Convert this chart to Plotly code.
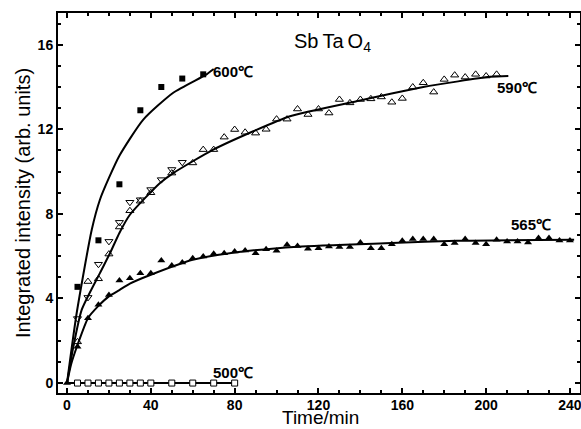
import plotly.graph_objects as go

# ---- data ----
t600 = [5, 15, 25, 35, 45, 55, 65]
y600 = [4.55, 6.75, 9.4, 12.9, 14.0, 14.4, 14.6]
fit600_t = [0, 4.6, 11.8, 15.7, 20, 25, 36.4, 50.7, 66.6, 70]
fit600_y = [0, 3.3, 7.25, 8.67, 9.7, 10.75, 12.46, 13.73, 14.6, 14.85]

t590dn = [5, 10, 15, 20, 25, 30, 35, 40, 45, 50, 55]
y590dn = [3.05, 4.05, 5.62, 6.7, 7.6, 8.55, 8.67, 9.15, 9.62, 10.1, 10.44]
t590up = [5, 10, 15, 20, 25, 30, 35, 40, 50, 60, 65, 70, 75, 80, 85, 90, 95, 100, 105,
          110, 115, 120, 125, 130, 135, 140, 145, 150, 155, 160, 165, 170, 175, 180,
          185, 190, 195, 200, 205]
y590up = [1.95, 4.8, 4.93, 6.1, 7.38, 8.15, 8.6, 9.0, 9.93, 10.41, 11.04, 11.04, 11.63,
          11.99, 11.86, 11.82, 12.0, 12.48, 12.48, 12.96, 12.7, 12.96, 12.77, 13.41,
          13.25, 13.41, 13.44, 13.53, 13.28, 13.46, 14.0, 14.2, 13.76, 14.36, 14.56,
          14.47, 14.6, 14.52, 14.6]
fit590_t = [0, 3, 7, 15.7, 20.5, 25, 30, 44.4, 50.7, 69.8, 88.9, 106.4, 138.2, 170, 201.8, 210.6]
fit590_y = [0, 1.7, 3.46, 5.2, 6.14, 7.1, 7.96, 9.46, 9.93, 11.04, 11.91, 12.62, 13.33, 14.0, 14.48, 14.52]

t565 = [0, 5, 10, 15, 20, 25, 30, 35, 40, 45, 50, 55, 60, 65, 70, 75, 80, 85, 90, 95, 100,
        105, 110, 115, 120, 125, 130, 135, 140, 145, 150, 155, 160, 165, 170, 175, 180,
        185, 190, 195, 200, 205, 210, 215, 220, 225, 230, 235, 240]
y565 = [0, 1.72, 3.07, 3.7, 4.17, 4.85, 4.96, 5.19, 5.19, 5.8, 5.56, 5.7, 5.9, 5.99, 6.11,
        6.14, 6.22, 6.27, 6.14, 6.33, 6.26, 6.54, 6.48, 6.35, 6.38, 6.46, 6.43, 6.43,
        6.65, 6.38, 6.38, 6.57, 6.73, 6.81, 6.81, 6.81, 6.57, 6.62, 6.81, 6.62, 6.57,
        6.78, 6.7, 6.7, 6.65, 6.86, 6.86, 6.74, 6.74]
fit565_t = [0, 2, 5, 10, 15, 20, 25, 30, 40, 60, 80, 110, 155, 186, 242]
fit565_y = [0, 0.9, 1.8, 3.07, 3.65, 4.1, 4.4, 4.7, 5.12, 5.83, 6.17, 6.45, 6.62, 6.73, 6.78]

t500 = [5, 10, 15, 20, 25, 30, 35, 40, 50, 60, 70, 80]
y500 = [0.0] * 12
fit500_t = [0, 80]
fit500_y = [0, 0]

xticks = [0, 40, 80, 120, 160, 200, 240]
yticks = [0, 4, 8, 12, 16]

FONT = "Liberation Sans, Arial, Helvetica, sans-serif"
BLACK = "#000000"

fig = go.Figure()

def curve(x, y):
    fig.add_trace(go.Scatter(x=x, y=y, mode="lines",
                             line=dict(color=BLACK, width=2, shape="spline", smoothing=0.6),
                             showlegend=False, hoverinfo="skip"))

curve(fit600_t, fit600_y)
curve(fit590_t, fit590_y)
curve(fit565_t, fit565_y)
curve(fit500_t, fit500_y)

fig.add_trace(go.Scatter(x=t600, y=y600, mode="markers",
                         marker=dict(symbol="square", size=6, color=BLACK, line=dict(width=0)),
                         showlegend=False))
fig.add_trace(go.Scatter(x=t590dn, y=y590dn, mode="markers",
                         marker=dict(symbol="triangle-down-open", size=7, color=BLACK, line=dict(width=1)),
                         showlegend=False))
fig.add_trace(go.Scatter(x=t590up, y=y590up, mode="markers",
                         marker=dict(symbol="triangle-up-open", size=7, color=BLACK, line=dict(width=1)),
                         showlegend=False))
fig.add_trace(go.Scatter(x=t565, y=y565, mode="markers",
                         marker=dict(symbol="triangle-up", size=7, color=BLACK, line=dict(width=0)),
                         showlegend=False))
fig.add_trace(go.Scatter(x=t500, y=y500, mode="markers",
                         marker=dict(symbol="square", size=6, color="white", line=dict(color=BLACK, width=1)),
                         showlegend=False))

labfont = dict(family=FONT, size=15, color=BLACK, weight="bold")
for txt, x, y in [("600℃", 69.5, 14.74), ("590℃", 205, 13.98), ("565℃", 212, 7.49), ("500℃", 69.5, 0.52)]:
    fig.add_annotation(x=x, y=y, text=txt, showarrow=False, xanchor="left", yanchor="middle",
                       font=labfont, xshift=-2)
fig.add_annotation(x=108.5, y=16.1, text="Sb\u2009Ta\u2009O<sub>4</sub>", showarrow=False, xanchor="left",
                   yanchor="middle", font=dict(family=FONT, size=20, color=BLACK), xshift=-2)

# x-axis title placed just under the tick labels
fig.add_annotation(x=0.502, y=-36 / 380, xref="paper", yref="paper", text="Time/min",
                   showarrow=False, xanchor="center", yanchor="bottom", yshift=-1,
                   font=dict(family=FONT, size=19, color=BLACK))

axis_common = dict(showline=True, linecolor=BLACK, linewidth=2, mirror="ticks",
                   ticks="inside", tickcolor=BLACK, tickwidth=1.5, ticklen=5,
                   showgrid=False, zeroline=False, automargin=False,
                   ticklabeloverflow="allow",
                   tickfont=dict(family=FONT, size=14, color=BLACK, weight="bold"))

fig.update_xaxes(range=[-4.3, 244.8], tickvals=xticks, ticktext=[str(v) for v in xticks],
                 ticklabelstandoff=-2,
                 minor=dict(dtick=10, tick0=0, ticks="inside", ticklen=3, tickcolor=BLACK, showgrid=False),
                 **axis_common)
fig.update_yaxes(range=[-0.47, 17.5], tickvals=yticks, ticktext=[str(v) for v in yticks],
                 minor=dict(dtick=1, tick0=0, ticks="inside", ticklen=3, tickcolor=BLACK, showgrid=False),
                 title=dict(text="Integrated intensity (arb. units)", font=dict(family=FONT, size=20, color=BLACK),
                            standoff=2),
                 **axis_common)

fig.update_layout(width=581, height=429, margin=dict(l=58, r=1, t=13, b=36),
                  paper_bgcolor="white", plot_bgcolor="white", showlegend=False)

fig.write_html("out.html", post_script="document.body.style.margin='0';",
               config={"displayModeBar": False})
